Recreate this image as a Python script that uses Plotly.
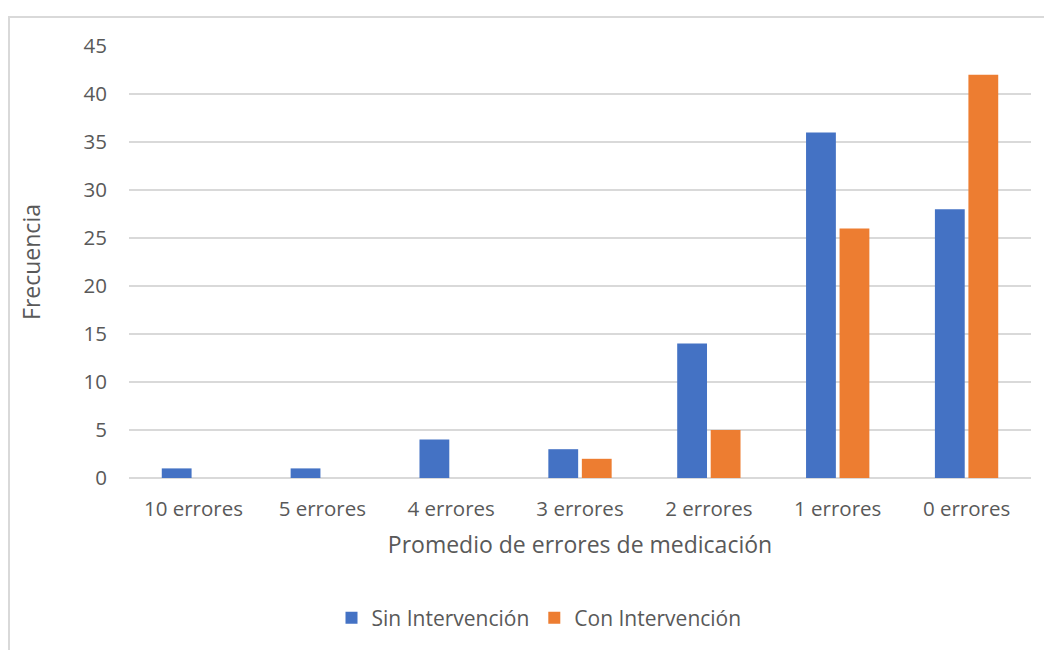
import plotly.graph_objects as go

categories = ["10 errores", "5 errores", "4 errores", "3 errores", "2 errores", "1 errores", "0 errores"]
sin_intervencion = [1, 1, 4, 3, 14, 36, 28]
con_intervencion = [0, 0, 0, 2, 5, 26, 42]
y_ticks = [0, 5, 10, 15, 20, 25, 30, 35, 40, 45]

FONT = "'Open Sans', sans-serif"
TXT = "#595959"
GRID = "#d9d9d9"

fig = go.Figure()
fig.add_trace(go.Bar(name="Sin Intervención", x=categories, y=sin_intervencion,
                     marker=dict(color="#4472C4", line=dict(width=0))))
fig.add_trace(go.Bar(name="Con Intervención", x=categories, y=con_intervencion,
                     marker=dict(color="#ED7D31", line=dict(width=0))))

W, H = 1044, 650
L, R, T, B = 129, 13, 46, 172
pw = W - L - R
ph = H - T - B

fig.update_layout(
    width=W, height=H,
    margin=dict(l=L, r=R, t=T, b=B, pad=0),
    paper_bgcolor="white", plot_bgcolor="white",
    barmode="group", bargap=0.48, bargroupgap=0.11,
    font=dict(family=FONT, color=TXT, size=20.5),
    showlegend=True,
    legend=dict(orientation="h", x=(539 - L) / pw, xanchor="center",
                y=(H - B - 618) / ph, yanchor="middle",
                font=dict(size=21, color=TXT), itemwidth=30,
                traceorder="normal", bgcolor="rgba(0,0,0,0)"),
    xaxis=dict(
        showgrid=False, showline=False, zeroline=False, ticks="",
        tickfont=dict(size=20.5, color=TXT), ticklabelstandoff=16,
        title=dict(text="Promedio de errores de medicación",
                   font=dict(size=23, color=TXT), standoff=16),
    ),
    yaxis=dict(
        range=[0, 45], tickvals=y_ticks, showgrid=True, gridcolor=GRID, gridwidth=1.5,
        zeroline=True, zerolinecolor=GRID, zerolinewidth=1.5, showline=False, ticks="",
        tickfont=dict(size=20.5, color=TXT), ticklabelstandoff=21,
        title=dict(text="Frecuencia", font=dict(size=23, color=TXT), standoff=36),
    ),
    shapes=[dict(type="rect", xref="paper", yref="paper",
                 x0=(9 - L) / pw, x1=2, y0=-2, y1=(H - B - 17) / ph,
                 line=dict(color=GRID, width=2), fillcolor="rgba(0,0,0,0)", layer="below")],
)

fig.write_html("out.html")
